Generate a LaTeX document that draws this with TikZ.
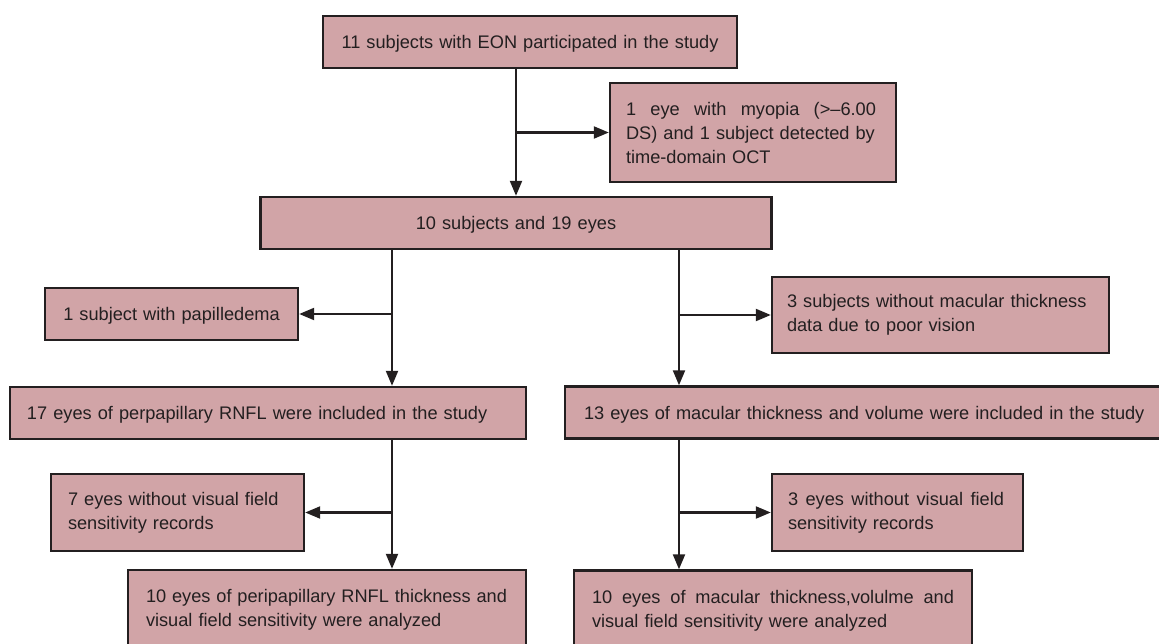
\documentclass[tikz,border=0pt]{standalone}
\usepackage{fontspec}
\setmainfont{Liberation Sans}
\usetikzlibrary{arrows.meta}
\definecolor{boxfill}{RGB}{209,164,167}
\definecolor{ink}{RGB}{35,31,32}
\newcommand{\spreadline}[2]{\hbox to #1{\spaceskip=.28em plus 1fil\xspaceskip=.28em plus 1fil\relax #2}}
\tikzset{
  flowbox/.style={draw=ink, fill=boxfill, line width=2.4pt, text=ink, align=left,
    inner ysep=0pt, font={\fontsize{18.2}{24}\selectfont\hyphenpenalty=10000\relax}},
  oneline/.style={text depth=0pt},
  flowarrow/.style={draw=ink, line width=2.2pt, -{Triangle[length=15pt,width=12pt]}}
}

\begin{document}
\begin{tikzpicture}[x=1pt, y=-1pt]
 \useasboundingbox (0,0) rectangle (1159,644);

 \node[flowbox, oneline, align=center, text width=394pt, inner xsep=10pt, minimum height=52pt] (start) at (530,42) {11 subjects with EON participated in the study};
 \node[flowbox, text width=254pt, inner xsep=16pt, minimum height=99pt] (myopia) at (753,132.5) {\spreadline{250pt}{1 eye with myopia (>–6.00}\\DS) and 1 subject detected by\\time-domain OCT};
 \node[flowbox, oneline, align=center, text width=491pt, inner xsep=10pt, minimum height=52pt] (cohort) at (516,223) {10 subjects and 19 eyes};
 \node[flowbox, oneline, align=center, text width=233pt, inner xsep=10pt, minimum height=52pt] (papil) at (171.5,314) {1 subject with papilledema};
 \node[flowbox, text width=307pt, inner xsep=15pt, minimum height=76pt] (poorvis) at (940.5,315) {3 subjects without macular thickness\\data due to poor vision};
 \node[flowbox, oneline, text width=482pt, inner xsep=17pt, minimum height=52pt] (rnfl) at (268,413) {17 eyes of perpapillary RNFL were included in the study};
 \node[flowbox, oneline, text width=580pt, inner xsep=19pt, minimum height=52pt] (macular) at (874,412.5) {13 eyes of macular thickness and volume were included in the study};
 \node[flowbox, text width=219pt, inner xsep=17pt, minimum height=77pt] (novfL) at (177.5,512.5) {7 eyes without visual field\\sensitivity records};
 \node[flowbox, text width=219pt, inner xsep=16pt, minimum height=77pt] (novfR) at (897.5,512.5) {\spreadline{216pt}{3 eyes without visual field}\\sensitivity records};
 \node[flowbox, text width=362pt, inner xsep=18pt, minimum height=80pt] (finalL) at (327,610) {\spreadline{361pt}{10 eyes of peripapillary RNFL thickness and}\\visual field sensitivity were analyzed};
 \node[flowbox, text width=362pt, inner xsep=18pt, minimum height=80pt] (finalR) at (773,610.5) {\spreadline{362pt}{10 eyes of macular thickness,volulme and}\\visual field sensitivity were analyzed};

 \coordinate (lt) at (392,0);
 \coordinate (rt) at (679,0);

 \draw[flowarrow] (start.south -| cohort.north) -- (cohort.north);
 \draw[flowarrow] (cohort.north |- myopia.west) -- (myopia.west);
 \draw[flowarrow] (cohort.south -| lt) -- (rnfl.north -| lt);
 \draw[flowarrow] (lt |- papil.east) -- (papil.east);
 \draw[flowarrow] (cohort.south -| rt) -- (macular.north -| rt);
 \draw[flowarrow] (rt |- poorvis.west) -- (poorvis.west);
 \draw[flowarrow] (rnfl.south -| lt) -- (finalL.north -| lt);
 \draw[flowarrow] (lt |- novfL.east) -- (novfL.east);
 \draw[flowarrow] (macular.south -| rt) -- (finalR.north -| rt);
 \draw[flowarrow] (rt |- novfR.west) -- (novfR.west);
\end{tikzpicture}
\end{document}
